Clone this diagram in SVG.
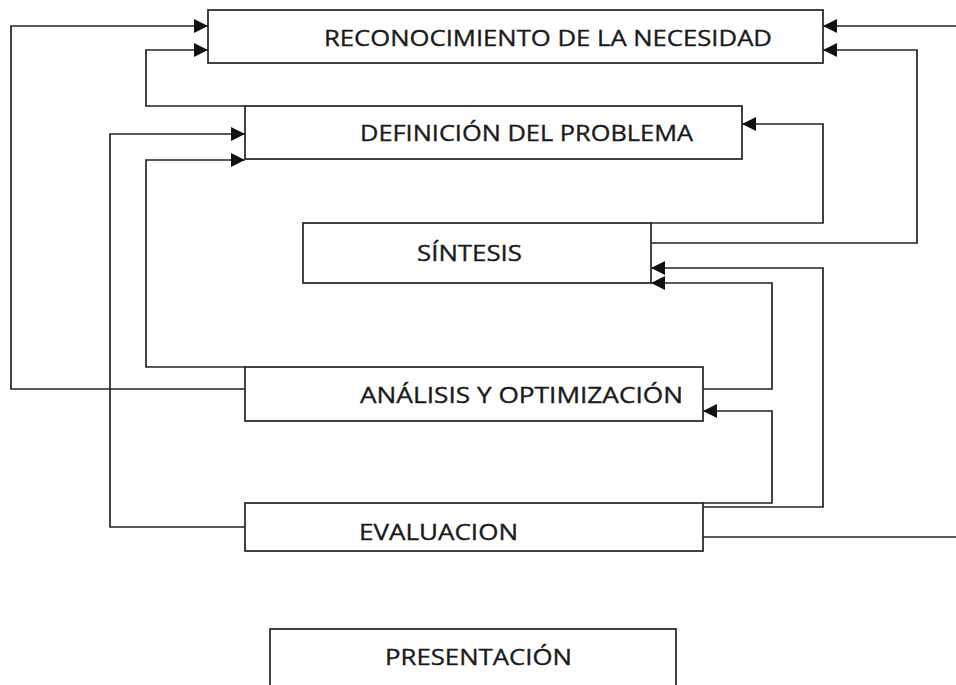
<svg xmlns="http://www.w3.org/2000/svg" width="956" height="685" viewBox="0 0 956 685">
<style>
.box{fill:#fff;stroke:#222;stroke-width:1.7}
.lbl{font-family:"Open Sans","Liberation Sans",sans-serif;font-size:22.5px;fill:#1a1a1a;stroke:#1a1a1a;stroke-width:0.35}
.con{fill:none;stroke:#222;stroke-width:1.7}
.arr{marker-end:url(#ah)}
</style>
<defs>
<marker id="ah" markerUnits="userSpaceOnUse" markerWidth="16" markerHeight="16" refX="14" refY="7" orient="auto">
<path d="M0,0 L14,7 L0,14 z" fill="#111"/>
</marker>
</defs>
<rect width="956" height="685" fill="#fff"/>
<g id="connectors">
<path class="con arr" d="M245,389 H11 V26 H208"/>
<path class="con arr" d="M245,106 H146 V50 H208"/>
<path class="con arr" d="M245,527 H110 V134 H245"/>
<path class="con arr" d="M245,367 H146 V160 H245"/>
<path class="con arr" d="M651,223 H823 V124 H742"/>
<path class="con arr" d="M651,243 H917 V50 H823"/>
<path class="con arr" d="M956,26 H823"/>
<path class="con arr" d="M700,507 H823 V268 H651"/>
<path class="con arr" d="M703,389 H772 V283 H651"/>
<path class="con arr" d="M703,503 H772 V411 H703"/>
<path class="con" d="M703,537 H956"/>
</g>
<g id="reconocimiento">
<rect class="box" x="208" y="10" width="615" height="53"/>
<text class="lbl" x="324" y="46" textLength="448" lengthAdjust="spacingAndGlyphs">RECONOCIMIENTO DE LA NECESIDAD</text>
</g>
<g id="definicion">
<rect class="box" x="245" y="106" width="497" height="53"/>
<text class="lbl" x="360" y="141" textLength="333" lengthAdjust="spacingAndGlyphs">DEFINICIÓN DEL PROBLEMA</text>
</g>
<g id="sintesis">
<rect class="box" x="303" y="223" width="348" height="60"/>
<text class="lbl" x="417" y="261" textLength="105" lengthAdjust="spacingAndGlyphs">SÍNTESIS</text>
</g>
<g id="analisis">
<rect class="box" x="245" y="367" width="458" height="54"/>
<text class="lbl" x="360" y="403" textLength="323" lengthAdjust="spacingAndGlyphs">ANÁLISIS Y OPTIMIZACIÓN</text>
</g>
<g id="evaluacion">
<rect class="box" x="245" y="503" width="458" height="48"/>
<text class="lbl" x="359" y="540" textLength="159" lengthAdjust="spacingAndGlyphs">EVALUACION</text>
</g>
<g id="presentacion">
<rect class="box" x="270" y="629" width="406" height="70"/>
<text class="lbl" x="385" y="665" textLength="187" lengthAdjust="spacingAndGlyphs">PRESENTACIÓN</text>
</g>
</svg>
